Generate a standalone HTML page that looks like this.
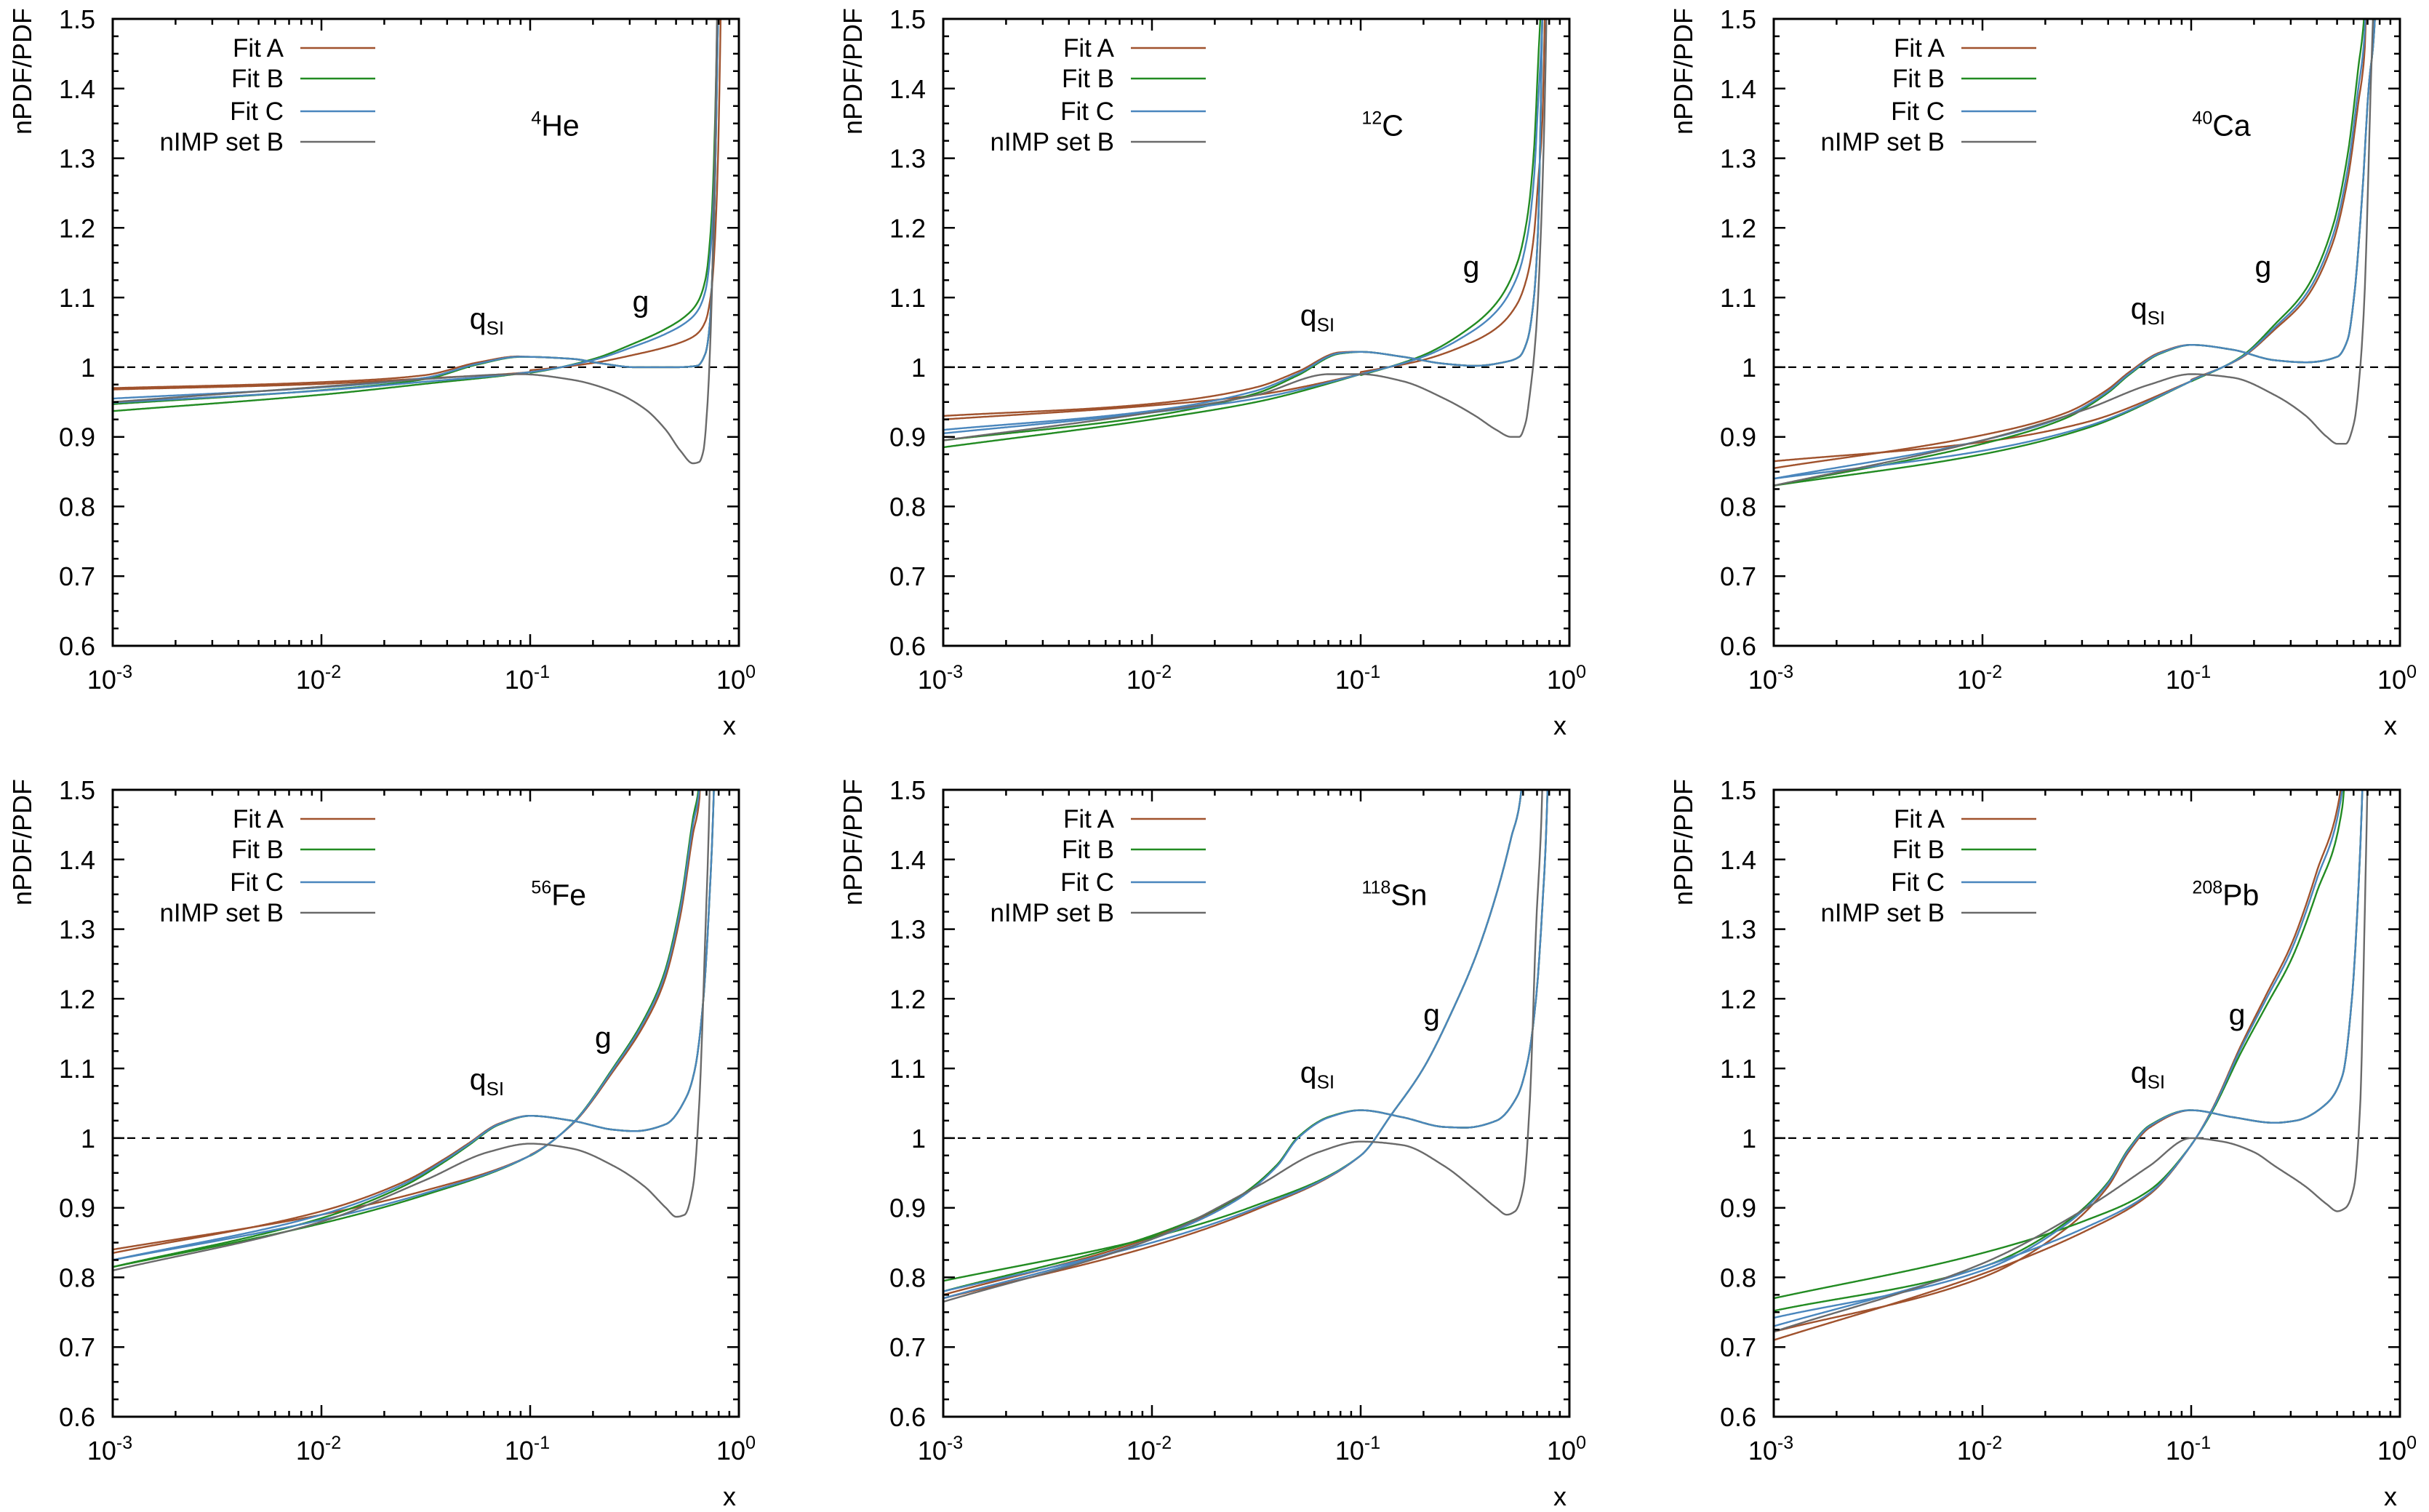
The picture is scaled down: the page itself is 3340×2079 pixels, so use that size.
<!DOCTYPE html>
<html><head><meta charset="utf-8"><style>
html,body{margin:0;padding:0;background:#fff;}
svg{display:block;}
text{font-family:"Liberation Sans",sans-serif;fill:#000;}
</style></head><body>
<svg id="s" width="3340" height="2079" xmlns="http://www.w3.org/2000/svg"></svg>
<script>
const S=document.getElementById('s');
const W=861,H=862;
const cols=[155,1297,2439], rows=[26,1086];
const COL={A:'#a0522d',B:'#228b22',C:'#4a86bd',G:'#6a6a6a'};
function P(a){const o=[];for(let i=0;i<a.length;i+=2)o.push([a[i],a[i+1]]);return o;}
const panels=[
{n:'4',el:'He',q:P([-3,.955,-2,.971,-1.5,.985,-1.25,1.005,-1.05,1.015,-0.8,1.012,-0.65,1.005,-0.5,1.0,-0.3,1.0,-0.2,1.002,-0.16,1.02,-0.14,1.06,-0.12,1.2,-0.1,1.5,-0.08,1.9]),
 dq:{A:.015,B:-.008,C:0},
 g:P([-3,.952,-2,.968,-1.5,.98,-1,.993,-0.7,1.01,-0.5,1.03,-0.35,1.048,-0.25,1.065,-0.2,1.08,-0.16,1.11,-0.13,1.19,-0.115,1.3,-0.1,1.5,-0.085,1.9]),
 dg:{A:.016,B:-.015,C:-.003},sg:{A:.6,B:1.15,C:1},
 gr:P([-3,.95,-2,.972,-1.5,.983,-1.05,.99,-0.8,.982,-0.6,.965,-0.45,.94,-0.35,.91,-0.28,.88,-0.22,.862,-0.19,.864,-0.17,.88,-0.15,.95,-0.13,1.1,-0.11,1.4,-0.1,1.6,-0.08,2]),
 lab:[-0.995,1.348],ql:[-1.29,1.055],gl:[-0.51,1.08]},
{n:'12',el:'C',q:P([-3,.905,-2,.935,-1.5,.965,-1.3,.99,-1.1,1.02,-1.0,1.022,-0.8,1.015,-0.6,1.005,-0.45,1.002,-0.3,1.008,-0.24,1.015,-0.2,1.04,-0.17,1.1,-0.15,1.2,-0.13,1.5,-0.11,1.9]),
 dq:{A:.025,B:-.01,C:.005},
 g:P([-3,.905,-2,.935,-1.5,.955,-1,.99,-0.7,1.015,-0.5,1.045,-0.35,1.08,-0.25,1.13,-0.2,1.19,-0.17,1.27,-0.15,1.38,-0.13,1.5,-0.11,1.9]),
 dg:{A:.02,B:-.02,C:0},sg:{A:.7,B:1.15,C:1},
 gr:P([-3,.895,-2,.935,-1.5,.96,-1.15,.99,-1.0,.99,-0.8,.98,-0.6,.955,-0.45,.93,-0.35,.91,-0.28,.9,-0.24,.9,-0.21,.92,-0.19,.96,-0.16,1.05,-0.13,1.25,-0.11,1.5,-0.09,2]),
 lab:[-0.995,1.348],ql:[-1.29,1.06],gl:[-0.51,1.13]},
{n:'40',el:'Ca',q:P([-3,.84,-2,.895,-1.6,.93,-1.4,.965,-1.3,.99,-1.15,1.02,-1.0,1.032,-0.8,1.025,-0.6,1.01,-0.45,1.007,-0.3,1.015,-0.25,1.04,-0.22,1.1,-0.18,1.25,-0.15,1.4,-0.12,1.5,-0.1,1.9]),
 dq:{A:.015,B:-.01,C:0},
 g:P([-3,.84,-2,.88,-1.5,.915,-1,.98,-0.76,1.015,-0.6,1.06,-0.45,1.11,-0.32,1.2,-0.25,1.3,-0.2,1.42,-0.17,1.5,-0.14,1.9]),
 dg:{A:.025,B:-.01,C:0},sg:{A:.9,B:1.02,C:.95},
 gr:P([-3,.83,-2,.895,-1.5,.94,-1.2,.975,-1.0,.99,-0.8,.985,-0.6,.96,-0.45,.93,-0.35,.9,-0.3,.89,-0.26,.89,-0.22,.92,-0.19,1.0,-0.17,1.1,-0.14,1.4,-0.12,1.6,-0.1,2]),
 lab:[-0.995,1.348],ql:[-1.29,1.07],gl:[-0.695,1.13]},
{n:'56',el:'Fe',q:P([-3,.825,-2,.89,-1.6,.935,-1.4,.97,-1.3,.99,-1.15,1.02,-1.0,1.032,-0.8,1.025,-0.6,1.012,-0.5,1.01,-0.35,1.02,-0.25,1.06,-0.21,1.1,-0.17,1.2,-0.14,1.35,-0.12,1.5,-0.1,1.9]),
 dq:{A:.01,B:-.01,C:0},
 g:P([-3,.82,-2,.88,-1.5,.92,-1,.975,-0.8,1.02,-0.6,1.1,-0.45,1.17,-0.36,1.23,-0.28,1.33,-0.22,1.45,-0.19,1.5,-0.16,1.9]),
 dg:{A:.02,B:-.005,C:.005},sg:{A:.97,B:1.02,C:1},
 gr:P([-3,.81,-2,.88,-1.5,.94,-1.2,.98,-1.0,.992,-0.8,.985,-0.6,.96,-0.45,.93,-0.35,.9,-0.3,.887,-0.26,.89,-0.22,.93,-0.19,1.05,-0.16,1.3,-0.14,1.5,-0.12,2]),
 lab:[-0.995,1.35],ql:[-1.29,1.07],gl:[-0.69,1.13]},
{n:'118',el:'Sn',q:P([-3,.77,-2,.855,-1.6,.91,-1.4,.96,-1.3,1.0,-1.15,1.03,-1.0,1.04,-0.8,1.03,-0.6,1.016,-0.5,1.015,-0.35,1.025,-0.25,1.06,-0.2,1.11,-0.16,1.2,-0.13,1.33,-0.105,1.5,-0.09,1.9]),
 dq:{A:.005,B:.01,C:0},
 g:P([-3,.78,-2,.85,-1.5,.9,-1,.975,-0.85,1.035,-0.7,1.1,-0.55,1.19,-0.45,1.26,-0.35,1.35,-0.28,1.43,-0.23,1.5,-0.2,1.9]),
 dg:{A:-.01,B:.015,C:0},sg:{A:1,B:1,C:1},
 gr:P([-3,.765,-2,.855,-1.5,.93,-1.2,.98,-1.0,.995,-0.8,.99,-0.6,.96,-0.45,.925,-0.35,.9,-0.3,.89,-0.26,.895,-0.22,.93,-0.19,1.05,-0.16,1.3,-0.13,1.5,-0.11,2]),
 lab:[-0.995,1.35],ql:[-1.29,1.08],gl:[-0.70,1.163]},
{n:'208',el:'Pb',q:P([-3,.722,-2,.80,-1.6,.87,-1.4,.93,-1.3,.98,-1.2,1.015,-1.0,1.04,-0.8,1.03,-0.6,1.022,-0.5,1.025,-0.35,1.05,-0.275,1.09,-0.23,1.2,-0.2,1.35,-0.18,1.5,-0.15,1.9]),
 dq:{A:0,B:.03,C:.02},
 g:P([-3,.72,-2,.81,-1.5,.87,-1.2,.92,-1,.99,-0.9,1.04,-0.76,1.13,-0.64,1.2,-0.52,1.27,-0.4,1.37,-0.276,1.5,-0.24,1.7]),
 dg:{A:-.01,B:.05,C:.01},sg:{A:1.03,B:.95,C:1},
 gr:P([-3,.722,-2,.82,-1.5,.9,-1.2,.96,-1.0,1.0,-0.85,.995,-0.7,.98,-0.6,.96,-0.45,.93,-0.35,.905,-0.3,.895,-0.26,.9,-0.22,.93,-0.19,1.05,-0.17,1.3,-0.15,1.6,-0.13,2]),
 lab:[-0.995,1.35],ql:[-1.29,1.08],gl:[-0.82,1.163]}
];
function pchip(k){
  const n=k.length,h=[],d=[],m=new Array(n);
  for(let i=0;i<n-1;i++){h[i]=k[i+1][0]-k[i][0];d[i]=(k[i+1][1]-k[i][1])/h[i];}
  m[0]=d[0];m[n-1]=d[n-2];
  for(let i=1;i<n-1;i++){
    if(d[i-1]*d[i]<=0)m[i]=0;
    else{const w1=2*h[i]+h[i-1],w2=h[i]+2*h[i-1];m[i]=(w1+w2)/(w1/d[i-1]+w2/d[i]);}
  }
  return l=>{
    if(l<=k[0][0])return k[0][1];
    for(let i=0;i<n-1;i++){
      if(l<=k[i+1][0]){
        const t=(l-k[i][0])/h[i],t2=t*t,t3=t2*t;
        return (2*t3-3*t2+1)*k[i][1]+(t3-2*t2+t)*h[i]*m[i]+(-2*t3+3*t2)*k[i+1][1]+(t3-t2)*h[i]*m[i+1];
      }
    }
    return k[n-1][1];
  };
}
let out='';
function w(l){return Math.max(0,Math.min(1,(-1-l)/2));}
panels.forEach((p,idx)=>{
  const L=cols[idx%3],T=rows[Math.floor(idx/3)];
  const X=l=>L+(l+3)/3*W, Y=v=>T+(1.5-v)/0.9*H;
  const cid='c'+idx;
  out+=`<clipPath id="${cid}"><rect x="${L}" y="${T}" width="${W}" height="${H}"/></clipPath>`;
  out+=`<line x1="${L}" y1="${Y(1)}" x2="${L+W}" y2="${Y(1)}" stroke="#000" stroke-width="2.2" stroke-dasharray="11,9"/>`;
  const fq=pchip(p.q),fg=pchip(p.g),fr=pchip(p.gr);
  const curves=[];
  ['A','B','C'].forEach(f=>{
    curves.push([f,l=>fq(l)+p.dq[f]*w(l),p.q]);
    curves.push([f,l=>{const t=fg(l);return t+p.dg[f]*w(l)+(l>-1?(t-1)*(p.sg[f]-1):0);},p.g]);
  });
  curves.push(['G',fr,p.gr]);
  let g=`<g clip-path="url(#${cid})" fill="none" stroke-width="2.4" stroke-linejoin="round">`;
  curves.forEach(([f,fn,k])=>{
    const end=k[k.length-1][0];let d='';
    for(let l=-3;l<=end+1e-9;l+=0.003){d+=(d?'L':'M')+X(l).toFixed(1)+','+Y(Math.min(fn(l),2.2)).toFixed(1);}
    g+=`<path d="${d}" stroke="${COL[f]}"/>`;
  });
  g+='</g>';out+=g;
  out+=`<rect x="${L}" y="${T}" width="${W}" height="${H}" fill="none" stroke="#000" stroke-width="3"/>`;
  let tk='';
  for(let i=0;i<=36;i++){const v=0.6+i*0.025,y=Y(v).toFixed(1);const len=(i%4==0)?16:8;
    tk+=`M${L},${y}h${len}M${L+W},${y}h${-len}`;}
  for(let dcd=-3;dcd<0;dcd++){for(let m=1;m<=9;m++){const l=dcd+Math.log10(m);const x=X(l).toFixed(1);const len=m==1?16:8;
    tk+=`M${x},${T+H}v${-len}M${x},${T}v${len}`;}}
  out+=`<path d="${tk}" stroke="#000" stroke-width="2.5"/>`;
  ['0.6','0.7','0.8','0.9','1','1.1','1.2','1.3','1.4','1.5'].forEach(s=>{
    out+=`<text x="${L-24}" y="${Y(parseFloat(s))+13}" font-size="36" text-anchor="end">${s}</text>`;});
  [-3,-2,-1,0].forEach(e=>{
    out+=`<text x="${X(e)-4}" y="${T+H+59}" font-size="36" text-anchor="middle">10<tspan font-size="25" dy="-15">${e}</tspan></text>`;});
  out+=`<text x="${L+W-13}" y="${T+H+122}" font-size="36" text-anchor="middle">x</text>`;
  out+=`<text transform="translate(${L-112},${T-15}) rotate(-90)" font-size="36" text-anchor="end">nPDF/PDF</text>`;
  [['Fit A','A'],['Fit B','B'],['Fit C','C'],['nIMP set B','G']].forEach((e,i)=>{
    const yc=T+[40,82,127,169][i];
    out+=`<text x="${L+235}" y="${yc+12}" font-size="35" text-anchor="end">${e[0]}</text>`;
    out+=`<line x1="${L+258}" y1="${yc}" x2="${L+361}" y2="${yc}" stroke="${COL[e[1]]}" stroke-width="2.6"/>`;
  });
  out+=`<text x="${X(p.lab[0])}" y="${Y(p.lab[1])+15}" font-size="41"><tspan font-size="25" dy="-16">${p.n}</tspan><tspan dy="16">${p.el}</tspan></text>`;
  out+=`<text x="${X(p.ql[0])}" y="${Y(p.ql[1])}" font-size="41">q<tspan font-size="26" dy="8">SI</tspan></text>`;
  out+=`<text x="${X(p.gl[0])}" y="${Y(p.gl[1])}" font-size="41">g</text>`;
});
S.innerHTML=out;
</script>
</body></html>
